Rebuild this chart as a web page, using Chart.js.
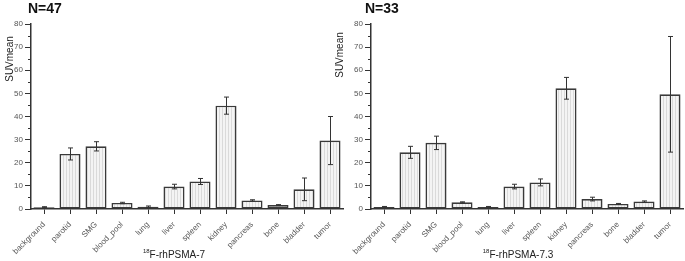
<!DOCTYPE html>
<html><head><meta charset="utf-8">
<script src="https://cdn.jsdelivr.net/npm/chart.js@4/dist/chart.umd.min.js"></script>
<style>
html,body{margin:0;padding:0;background:#fff;}
body{width:685px;height:261px;position:relative;overflow:hidden;}
#c1{position:absolute;left:0;top:0;}
#c2{position:absolute;left:330px;top:0;}
</style></head><body>
<canvas id="c1" width="345" height="261"></canvas>
<canvas id="c2" width="355" height="261"></canvas>
<script>
const categories = ['background','parotid','SMG','blood_pool','lung','liver','spleen','kidney','pancreas','bone','bladder','tumor'];
const rhPSMA7_mean = [0.8, 23.8, 27.1, 2.6, 1.0, 9.7, 11.9, 44.7, 3.7, 1.7, 8.5, 29.6];
const rhPSMA7_err  = [0.2, 2.6, 2.0, 0.3, 0.3, 1.0, 1.3, 3.7, 0.3, 0.2, 4.9, 10.4];
const rhPSMA73_mean = [0.9, 24.5, 28.6, 2.9, 0.9, 9.7, 11.5, 52.2, 4.3, 2.2, 3.2, 49.6];
const rhPSMA73_err  = [0.2, 2.6, 2.9, 0.2, 0.2, 1.0, 1.5, 4.7, 0.8, 0.2, 0.3, 25.0];
const yMin = 0, yMax = 80, yStep = 10, yMinorStep = 5;
const yTitle = 'SUVmean';
const panel1Title = 'N=47', panel2Title = 'N=33';
const xTitleSup = '18';
const panel1XTitle = 'F-rhPSMA-7', panel2XTitle = 'F-rhPSMA-7.3';

function makePattern(ctx){
  const c = document.createElement('canvas'); c.width = 3; c.height = 3;
  const g = c.getContext('2d');
  g.fillStyle = '#f4f4f4'; g.fillRect(0,0,3,3);
  g.fillStyle = '#dadada'; g.fillRect(0,0,1,3);
  return ctx.createPattern(c, 'repeat');
}

function buildChart(canvasId, means, errs, opts){
  const canvas = document.getElementById(canvasId);
  const ctx = canvas.getContext('2d');
  const deco = {
    id: 'deco',
    afterDatasetsDraw(chart){
      const c = chart.ctx, meta = chart.getDatasetMeta(0), ys = chart.scales.y;
      c.save();
      c.strokeStyle = '#333'; c.lineWidth = 1;
      meta.data.forEach((bar, i) => {
        const x = Math.round(bar.x) + 0.5;
        const yt = ys.getPixelForValue(means[i] + errs[i]);
        const yb = ys.getPixelForValue(means[i] - errs[i]);
        c.beginPath();
        c.moveTo(x, yt); c.lineTo(x, yb);
        c.moveTo(x - 2.5, yt); c.lineTo(x + 2.5, yt);
        c.moveTo(x - 2.5, yb); c.lineTo(x + 2.5, yb);
        c.stroke();
      });
      c.restore();
    },
    afterDraw(chart){
      const c = chart.ctx, ys = chart.scales.y, area = chart.chartArea;
      c.save();
      c.strokeStyle = '#333'; c.lineWidth = 1;
      for (let v = yMin + yMinorStep; v < yMax; v += yStep){
        const y = Math.round(ys.getPixelForValue(v)) + 0.5;
        c.beginPath(); c.moveTo(area.left - 3, y); c.lineTo(area.left, y); c.stroke();
      }
      c.fillStyle = '#111';
      c.font = 'bold 14px "Liberation Sans", Arial, sans-serif';
      c.textBaseline = 'alphabetic'; c.textAlign = 'left';
      c.fillText(opts.title, opts.titleX, 13);
      c.save();
      c.translate(opts.yTitleX, opts.yTitleY);
      c.rotate(-Math.PI/2);
      c.font = opts.yTitleFont + 'px "Liberation Sans", Arial, sans-serif';
      c.textAlign = 'center'; c.textBaseline = 'middle';
      c.fillStyle = '#222';
      c.fillText(yTitle, 0, 0);
      c.restore();
      c.font = '10px "Liberation Sans", Arial, sans-serif';
      const mainW = c.measureText(opts.xTitle).width;
      c.font = '6px "Liberation Sans", Arial, sans-serif';
      const supW = c.measureText(xTitleSup).width;
      const total = mainW + supW;
      const x0 = opts.xTitleCenter - total/2;
      c.fillStyle = '#222'; c.textAlign = 'left';
      c.fillText(xTitleSup, x0, 253);
      c.font = '10px "Liberation Sans", Arial, sans-serif';
      c.fillText(opts.xTitle, x0 + supW, 258);
      c.restore();
    }
  };
  return new Chart(ctx, {
    type: 'bar',
    data: {
      labels: categories,
      datasets: [{
        data: means,
        backgroundColor: makePattern(ctx),
        borderColor: '#3a3a3a',
        borderWidth: 1.6,
        borderSkipped: false,
        barPercentage: 0.81,
        categoryPercentage: 1.0
      }]
    },
    options: {
      responsive: false,
      devicePixelRatio: 1,
      animation: false,
      layout: { padding: { left: 0, right: 2, top: 24, bottom: 0 } },
      plugins: { legend: { display: false }, tooltip: { enabled: false }, title: { display: false } },
      scales: {
        x: {
          offset: true,
          grid: { offset: false, drawOnChartArea: false, tickLength: 5, color: '#333', lineWidth: 1 },
          border: { display: true, color: '#333', width: 1.5 },
          ticks: { autoSkip: false, minRotation: 45, maxRotation: 45, padding: 6, color: '#555',
                   font: { size: 8, family: '"Liberation Sans", Arial, sans-serif' } },
          afterFit(scale){ scale.height = 52; }
        },
        y: {
          min: yMin, max: yMax,
          grid: { drawOnChartArea: false, tickLength: 6, color: '#333', lineWidth: 1 },
          border: { display: true, color: '#333', width: 1.5 },
          ticks: { stepSize: yStep, padding: 2, color: '#555',
                   font: { size: 8, family: '"Liberation Sans", Arial, sans-serif' } },
          afterFit(scale){ scale.width = opts.yWidth; }
        }
      }
    },
    plugins: [deco]
  });
}

buildChart('c1', rhPSMA7_mean, rhPSMA7_err, {
  title: panel1Title, titleX: 28, yWidth: 31, yTitleX: 10, yTitleY: 59, yTitleFont: 10,
  xTitle: panel1XTitle, xTitleCenter: 174
});
buildChart('c2', rhPSMA73_mean, rhPSMA73_err, {
  title: panel2Title, titleX: 35, yWidth: 41, yTitleX: 10, yTitleY: 55, yTitleFont: 10,
  xTitle: panel2XTitle, xTitleCenter: 188
});
</script>
</body></html>
